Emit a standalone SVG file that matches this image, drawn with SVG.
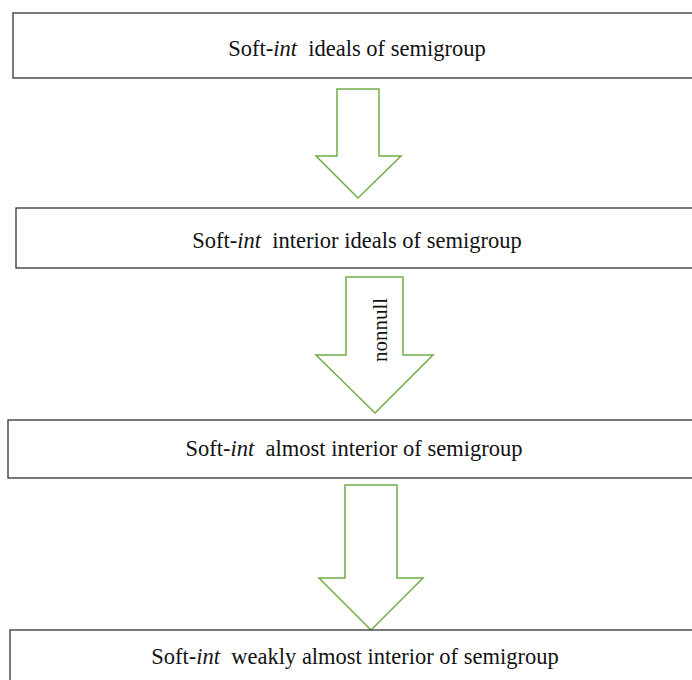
<svg xmlns="http://www.w3.org/2000/svg" width="692" height="680" viewBox="0 0 692 680">
<defs>
<style>
.box{fill:#fff;stroke:#333;stroke-width:1.3}
.arr{fill:#fff;stroke:#70ad47;stroke-width:1.5;stroke-linejoin:miter}
.t{font-family:"Liberation Serif","Times New Roman",serif;font-size:22.5px;fill:#111;text-anchor:middle;white-space:pre}
.i{font-style:italic}
</style>
</defs>
<rect width="692" height="680" fill="#fff"/>
<g id="connectors">
<polygon class="arr" points="337,89 379,89 379,156 401,156 358,198 316,156 337,156"/>
<polygon class="arr" points="346,277 403,277 403,355 433,355 375,413 316,355 346,355"/>
<text class="t" transform="translate(387,330) rotate(-90)" style="font-size:21px">nonnull</text>
<polygon class="arr" points="345,485 397,485 397,578 423,578 371,630 319,578 345,578"/>
</g>
<g id="node1">
<rect class="box" x="13" y="13" width="700" height="65"/>
<text class="t" x="357" y="56" xml:space="preserve">Soft-<tspan class="i">int</tspan>  ideals of semigroup</text>
</g>
<g id="node2">
<rect class="box" x="16" y="208" width="700" height="60"/>
<text class="t" x="357" y="248" xml:space="preserve">Soft-<tspan class="i">int</tspan>  interior ideals of semigroup</text>
</g>
<g id="node3">
<rect class="box" x="8" y="420" width="700" height="58"/>
<text class="t" x="354" y="456" xml:space="preserve">Soft-<tspan class="i">int</tspan>  almost interior of semigroup</text>
</g>
<g id="node4">
<rect class="box" x="10" y="630" width="700" height="70"/>
<text class="t" x="355" y="664" xml:space="preserve">Soft-<tspan class="i">int</tspan>  weakly almost interior of semigroup</text>
</g>
</svg>
